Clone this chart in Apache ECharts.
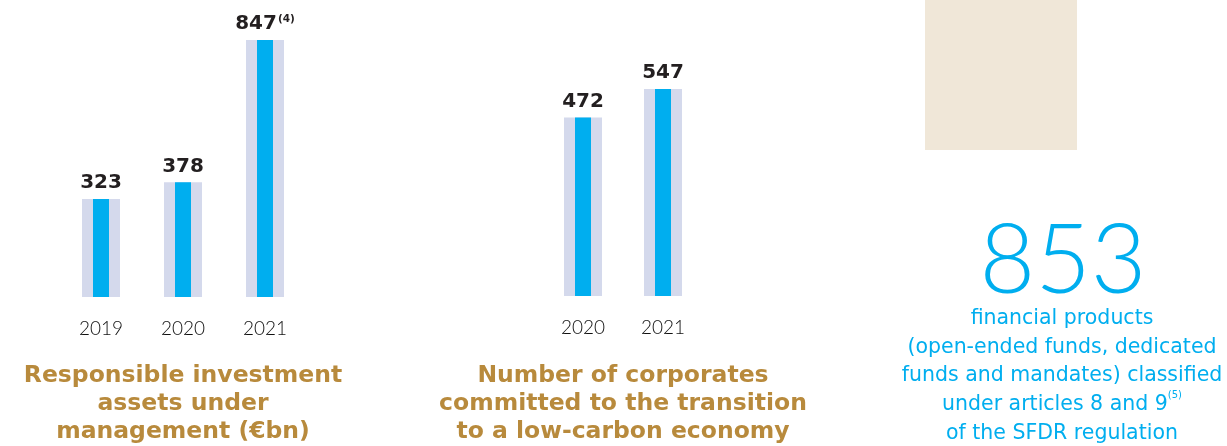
<!DOCTYPE html>
<html>
<head>
<meta charset="utf-8">
<script src="https://cdn.jsdelivr.net/npm/echarts@6/dist/echarts.min.js"></script>
<style>
  html, body { margin: 0; padding: 0; background: #ffffff; }
  #chart { width: 1227px; height: 446px; }
</style>
</head>
<body>
<div id="chart"></div>
<script>
// Responsible investment assets under management (€bn)
const aumYears = ['2019', '2020', '2021'];
const aumValues = [323, 378, 847];
const aumNotes = ['', '', '(4)'];

// Corporates committed to the transition to a low-carbon economy
const corpYears = ['2020', '2021'];
const corpValues = [472, 547];

// SFDR article 8 and 9 products
const sfdrCount = '853';
const sfdrLines = [
  'financial products',
  '(open-ended funds, dedicated',
  'funds and mandates) classified',
  'under articles 8 and 9{sup|(5)}',
  'of the SFDR regulation'
];

const titleAum = ['Responsible investment', 'assets under', 'management (€bn)'];
const titleCorp = ['Number of corporates', 'committed to the transition', 'to a low-carbon economy'];

const BLUE = '#00aeef';
const HALO = '#d4d9ec';
const GOLD = '#b88a3c';
const INK = '#231f20';
const LIGHT = 'Lato, "Open Sans", sans-serif';
const WIDE = '"DejaVu Sans", Verdana, sans-serif';

const chart = echarts.init(document.getElementById('chart'), null, { renderer: 'canvas' });

function valueLabel(notes) {
  return {
    show: true,
    position: 'top',
    distance: 6,
    fontFamily: WIDE,
    fontWeight: 'bold',
    fontSize: 20,
    color: INK,
    formatter: function (p) {
      const n = notes ? notes[p.dataIndex] : '';
      return n ? p.value + '{sup|' + n + '}' : String(p.value);
    },
    rich: {
      sup: { fontFamily: WIDE, fontWeight: 'bold', fontSize: 10.5, color: INK, verticalAlign: 'top', padding: [0, 0, 9, 1] }
    }
  };
}

// visible category axis with year labels
function xAxisFor(idx, cats) {
  return {
    type: 'category', gridIndex: idx, data: cats,
    axisLine: { show: false }, axisTick: { show: false },
    axisLabel: { margin: 22, fontFamily: LIGHT, fontWeight: 300, fontSize: 19, color: '#111111' }
  };
}
// hidden twin axis so the wide backdrop bar centres on the same slot
function twinAxisFor(idx, cats) {
  return { type: 'category', gridIndex: idx, data: cats, show: false };
}
function yAxisFor(idx, max) {
  return { type: 'value', gridIndex: idx, min: 0, max: max, show: false, splitLine: { show: false } };
}

function barPair(gridIdx, twinIdx, values, notes) {
  return [
    {
      type: 'bar', xAxisIndex: twinIdx, yAxisIndex: gridIdx, data: values,
      barWidth: 38, itemStyle: { color: HALO },
      silent: true, z: 1
    },
    {
      type: 'bar', xAxisIndex: gridIdx, yAxisIndex: gridIdx, data: values,
      barWidth: 16, itemStyle: { color: BLUE },
      label: valueLabel(notes), z: 2
    }
  ];
}

const option = {
  backgroundColor: '#ffffff',
  animation: false,
  grid: [
    { left: 60, top: 24, width: 246, height: 273 },
    { left: 543, top: 69, width: 160, height: 227 }
  ],
  xAxis: [
    xAxisFor(0, aumYears), xAxisFor(1, corpYears),
    twinAxisFor(0, aumYears), twinAxisFor(1, corpYears)
  ],
  yAxis: [yAxisFor(0, 900), yAxisFor(1, 600)],
  series: [].concat(barPair(0, 2, aumValues, aumNotes), barPair(1, 3, corpValues, null)),
  graphic: [
    { type: 'rect', shape: { x: 925, y: 0, width: 152, height: 150 }, style: { fill: '#f0e7d8' }, silent: true },
    {
      type: 'text', x: 1063, y: 214,
      style: { text: sfdrCount, textAlign: 'center', fill: BLUE, fontFamily: LIGHT, fontWeight: 300, fontSize: 96 }
    },
    {
      type: 'text', x: 1062, y: 304,
      style: {
        text: sfdrLines.join('\n'), textAlign: 'center', fill: BLUE,
        fontFamily: WIDE, fontSize: 20.5, lineHeight: 28.8,
        rich: { sup: { fontSize: 10, fill: BLUE, fontFamily: WIDE, verticalAlign: 'top', padding: [0, 0, 8, 0], lineHeight: 28.8 } }
      }
    },
    {
      type: 'text', x: 183, y: 362,
      style: {
        text: titleAum.join('\n'), textAlign: 'center', fill: GOLD,
        fontFamily: WIDE, fontWeight: 'bold', fontSize: 23.5, lineHeight: 28
      }
    },
    {
      type: 'text', x: 623, y: 362,
      style: {
        text: titleCorp.join('\n'), textAlign: 'center', fill: GOLD,
        fontFamily: WIDE, fontWeight: 'bold', fontSize: 23.5, lineHeight: 28
      }
    }
  ]
};

chart.setOption(option);
</script>
</body>
</html>
